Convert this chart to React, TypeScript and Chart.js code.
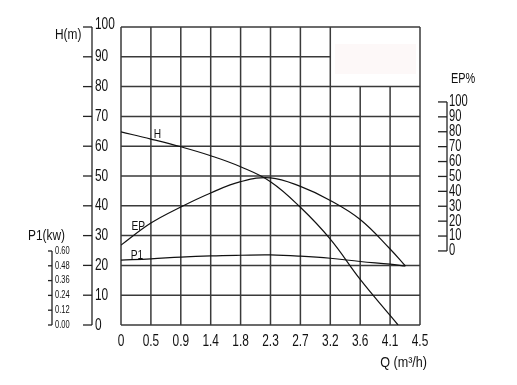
import React, { useEffect, useRef } from "react";
import { Chart, registerables } from "chart.js";

Chart.register(...registerables);

// Flow Q (m3/h) sample points
const qH = [0, 0.45, 0.9, 1.35, 1.8, 2.25, 2.7, 3.15, 3.6, 4.05, 4.17];
const headH = [64.8, 62.4, 59.8, 56.8, 53.1, 48.1, 39.5, 28.8, 15.3, 3.2, 0];

const qEP = [0, 0.45, 0.9, 1.35, 1.8, 2.25, 2.7, 3.15, 3.6, 4.05, 4.28];
const effEP = [26.8, 34.2, 39.6, 44.3, 48.1, 49.4, 46.5, 41.8, 35.4, 25.5, 19.8];

const qP1 = [0, 0.45, 0.9, 1.35, 1.8, 2.25, 2.7, 3.15, 3.6, 4.05, 4.28];
const powP1 = [21.8, 22.2, 22.8, 23.2, 23.4, 23.5, 23.1, 22.4, 21.3, 20.4, 19.8];

const xTickValues = [0, 0.45, 0.9, 1.35, 1.8, 2.25, 2.7, 3.15, 3.6, 4.05, 4.5];
const xTickLabels = ["0", "0.5", "0.9", "1.4", "1.8", "2.3", "2.7", "3.2", "3.6", "4.1", "4.5"];
const hTicks = [0, 10, 20, 30, 40, 50, 60, 70, 80, 90, 100];
const epTicks = [0, 10, 20, 30, 40, 50, 60, 70, 80, 90, 100];
const p1Ticks = [0, 0.12, 0.24, 0.36, 0.48, 0.6];
const p1TickLabels = ["0.00", "0.12", "0.24", "0.36", "0.48", "0.60"];

const FONT = '"Liberation Sans", Arial, sans-serif';
const GRID = "#3a3a3a";

function txt(ctx: CanvasRenderingContext2D, s: string, x: number, y: number, size: number, align: CanvasTextAlign, sx: number) {
  ctx.save();
  ctx.font = `${size}px ${FONT}`;
  ctx.fillStyle = "#111";
  ctx.textBaseline = "middle";
  ctx.textAlign = align;
  ctx.translate(x, y);
  ctx.scale(sx, 1);
  ctx.fillText(s, 0, 0);
  ctx.restore();
}

function line(ctx: CanvasRenderingContext2D, x1: number, y1: number, x2: number, y2: number) {
  ctx.beginPath();
  ctx.moveTo(x1, y1);
  ctx.lineTo(x2, y2);
  ctx.stroke();
}

const pumpPlugin = {
  id: "pumpDecor",
  beforeDatasetsDraw(chart: any) {
    const ctx = chart.ctx as CanvasRenderingContext2D;
    const xs = chart.scales.x;
    const ys = chart.scales.y;
    const ep = chart.scales.ep;
    const p1 = chart.scales.p1;
    const boxQ = 3.15;
    const boxH = 80;
    ctx.save();
    ctx.strokeStyle = GRID;
    ctx.lineWidth = 1.5;
    // vertical grid
    xTickValues.forEach((v) => {
      const px = xs.getPixelForValue(v);
      const top = v > boxQ + 0.01 && v < 4.49 ? ys.getPixelForValue(boxH) : ys.getPixelForValue(100);
      line(ctx, px, top, px, ys.getPixelForValue(0));
    });
    // horizontal grid
    hTicks.forEach((v) => {
      const py = ys.getPixelForValue(v);
      const right = v > boxH && v < 100 ? xs.getPixelForValue(boxQ) : xs.getPixelForValue(4.5);
      line(ctx, xs.getPixelForValue(0), py, right, py);
    });
    // faint box in the empty corner
    ctx.fillStyle = "#fdf8f8";
    const bx1 = xs.getPixelForValue(3.22), bx2 = xs.getPixelForValue(4.44);
    const by1 = ys.getPixelForValue(94.3), by2 = ys.getPixelForValue(84.2);
    ctx.fillRect(bx1, by1, bx2 - bx1, by2 - by1);

    ctx.strokeStyle = "#222";
    ctx.lineWidth = 1.3;
    // H axis
    const hx = chart.chartArea.left - 29;
    line(ctx, hx, ys.getPixelForValue(100), hx, ys.getPixelForValue(0));
    hTicks.forEach((v) => {
      const py = ys.getPixelForValue(v);
      line(ctx, hx - 9, py, hx, py);
      txt(ctx, String(v), hx + 3, v === 100 ? py - 3 : py, 17, "left", 0.7);
    });
    txt(ctx, "H(m)", hx - 37, ys.getPixelForValue(97.3), 14, "left", 0.85);

    // EP axis
    const ex = chart.chartArea.right + 27;
    line(ctx, ex, ep.getPixelForValue(100), ex, ep.getPixelForValue(0));
    epTicks.forEach((v) => {
      const py = ep.getPixelForValue(v);
      line(ctx, ex - 9, py, ex, py);
      txt(ctx, String(v), ex + 2, py, 16, "left", 0.7);
    });
    txt(ctx, "EP%", ex + 4, ep.getPixelForValue(115), 14, "left", 0.78);

    // P1 axis
    const px1 = chart.chartArea.left - 69;
    line(ctx, px1, p1.getPixelForValue(0.6), px1, p1.getPixelForValue(0));
    p1Ticks.forEach((v, i) => {
      const py = p1.getPixelForValue(v);
      line(ctx, px1 - 4, py, px1, py);
      txt(ctx, p1TickLabels[i], px1 + 3, py, 10, "left", 0.75);
    });
    txt(ctx, "P1(kw)", px1 - 24, p1.getPixelForValue(0.72), 14, "left", 0.85);

    // X tick labels
    xTickValues.forEach((v, i) => {
      txt(ctx, xTickLabels[i], xs.getPixelForValue(v), ys.getPixelForValue(0) + 16, 17, "center", 0.7);
    });
    txt(ctx, "Q (m\u00B3/h)", xs.getPixelForValue(3.9), ys.getPixelForValue(0) + 38, 14, "left", 0.9);
    ctx.restore();
  },
  afterDatasetsDraw(chart: any) {
    const ctx = chart.ctx as CanvasRenderingContext2D;
    const xs = chart.scales.x;
    const ys = chart.scales.y;
    txt(ctx, "H", xs.getPixelForValue(0.55), ys.getPixelForValue(64), 12, "center", 0.85);
    txt(ctx, "EP", xs.getPixelForValue(0.26), ys.getPixelForValue(33), 12, "center", 0.85);
    txt(ctx, "P1", xs.getPixelForValue(0.24), ys.getPixelForValue(23.3), 12, "center", 0.85);
  },
};

export default function App() {
  const ref = useRef<HTMLCanvasElement | null>(null);
  useEffect(() => {
    if (!ref.current) return;
    const mk = (xs: number[], ys: number[]) => xs.map((x, i) => ({ x, y: ys[i] }));
    const ds = (label: string, data: any) => ({
      label,
      data,
      borderColor: "#111",
      borderWidth: 1.2,
      pointRadius: 0,
      fill: false,
      tension: 0.4,
      yAxisID: "y",
    });
    const chart = new Chart(ref.current, {
      type: "line",
      data: {
        datasets: [ds("H", mk(qH, headH)), ds("EP", mk(qEP, effEP)), ds("P1", mk(qP1, powP1))],
      },
      options: {
        animation: false,
        responsive: false,
        devicePixelRatio: 1,
        layout: { padding: { left: 121, right: 97, top: 27, bottom: 60 } },
        plugins: { legend: { display: false }, tooltip: { enabled: false } },
        scales: {
          x: { type: "linear", min: 0, max: 4.5, display: false },
          y: { type: "linear", min: 0, max: 100, display: false },
          ep: { type: "linear", position: "right", min: -49.7, max: 150.3, display: false },
          p1: { type: "linear", position: "left", min: 0, max: 2.416, display: false },
        },
      },
      plugins: [pumpPlugin],
    });
    return () => chart.destroy();
  }, []);
  return (
    <div style={{ position: "absolute", left: 0, top: 0, width: 517, height: 385, background: "#fff" }}>
      <canvas ref={ref} width={517} height={385} />
    </div>
  );
}
